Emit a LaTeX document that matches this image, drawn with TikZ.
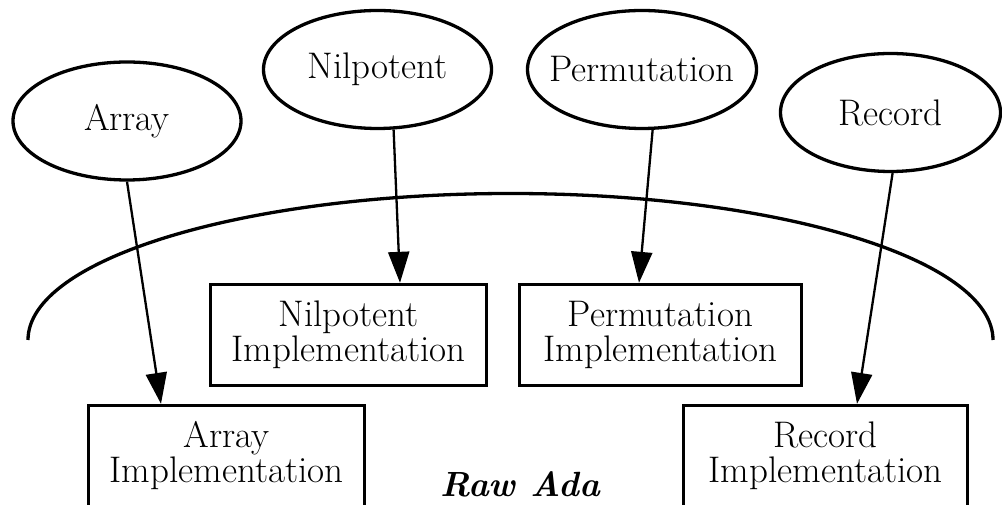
\documentclass[tikz,border=0pt]{standalone}
\usepackage{fontspec}
\usetikzlibrary{shapes.geometric,arrows.meta}

\tikzset{
  x=1pt, y=1pt,
  lbl/.style={font=\fontsize{37}{35}\selectfont},
  concept/.style={ellipse, draw, line width=3.3pt, inner ysep=0pt, inner xsep=-30pt, lbl},
  impl/.style={rectangle, draw, line width=3.3pt, inner sep=0pt, align=center, lbl},
  dep/.style={line width=2.3pt, -{Triangle[length=31pt,width=21pt]}},
  boundary/.style={line width=3.3pt}
}

\begin{document}
\begin{tikzpicture}
  \useasboundingbox (0,0) rectangle (1002,505);
  \clip (0,0) rectangle (1002,505);

  % Boundary of the Raw Ada layer
  \draw[boundary] (28,165) arc[start angle=180, end angle=0, x radius=482.5, y radius=146.5];

  % Abstract concepts
  \node[concept, minimum width=228, minimum height=118] (arr) at (127,384) {Array};
  \node[concept, minimum width=228, minimum height=118] (nil) at (377.5,435.5) {Nilpotent};
  \node[concept, minimum width=229, minimum height=118] (perm) at (642,435.5) {Permutation};
  \node[concept, minimum width=220, minimum height=118] (rec) at (890.5,392.5) {Record};

  % Implementations
  \node[impl, minimum width=276, minimum height=101] (nilimpl) at (348.5,170) {Nilpotent\\Implementation};
  \node[impl, minimum width=282, minimum height=101] (permimpl) at (660.5,170) {Permutation\\Implementation};
  \node[impl, minimum width=276, minimum height=101] (arrimpl) at (226.5,49) {Array\\Implementation};
  \node[impl, minimum width=284, minimum height=101] (recimpl) at (825.5,49) {Record\\Implementation};

  % Layer label
  \node[anchor=base, inner sep=0pt, font=\fontsize{35}{36}\selectfont\bfseries\itshape] (raw) at (520,8) {Raw Ada};

  % Realisation arrows
  \draw[dep] (arr.south) -- ([xshift=-65.5]arrimpl.north);
  \draw[dep] (nil.-75) -- ([xshift=51.5]nilimpl.north);
  \draw[dep] (perm.-80) -- ([xshift=-21.5]permimpl.north);
  \draw[dep] (rec.-88) -- ([xshift=31.5]recimpl.north);
\end{tikzpicture}
\end{document}
